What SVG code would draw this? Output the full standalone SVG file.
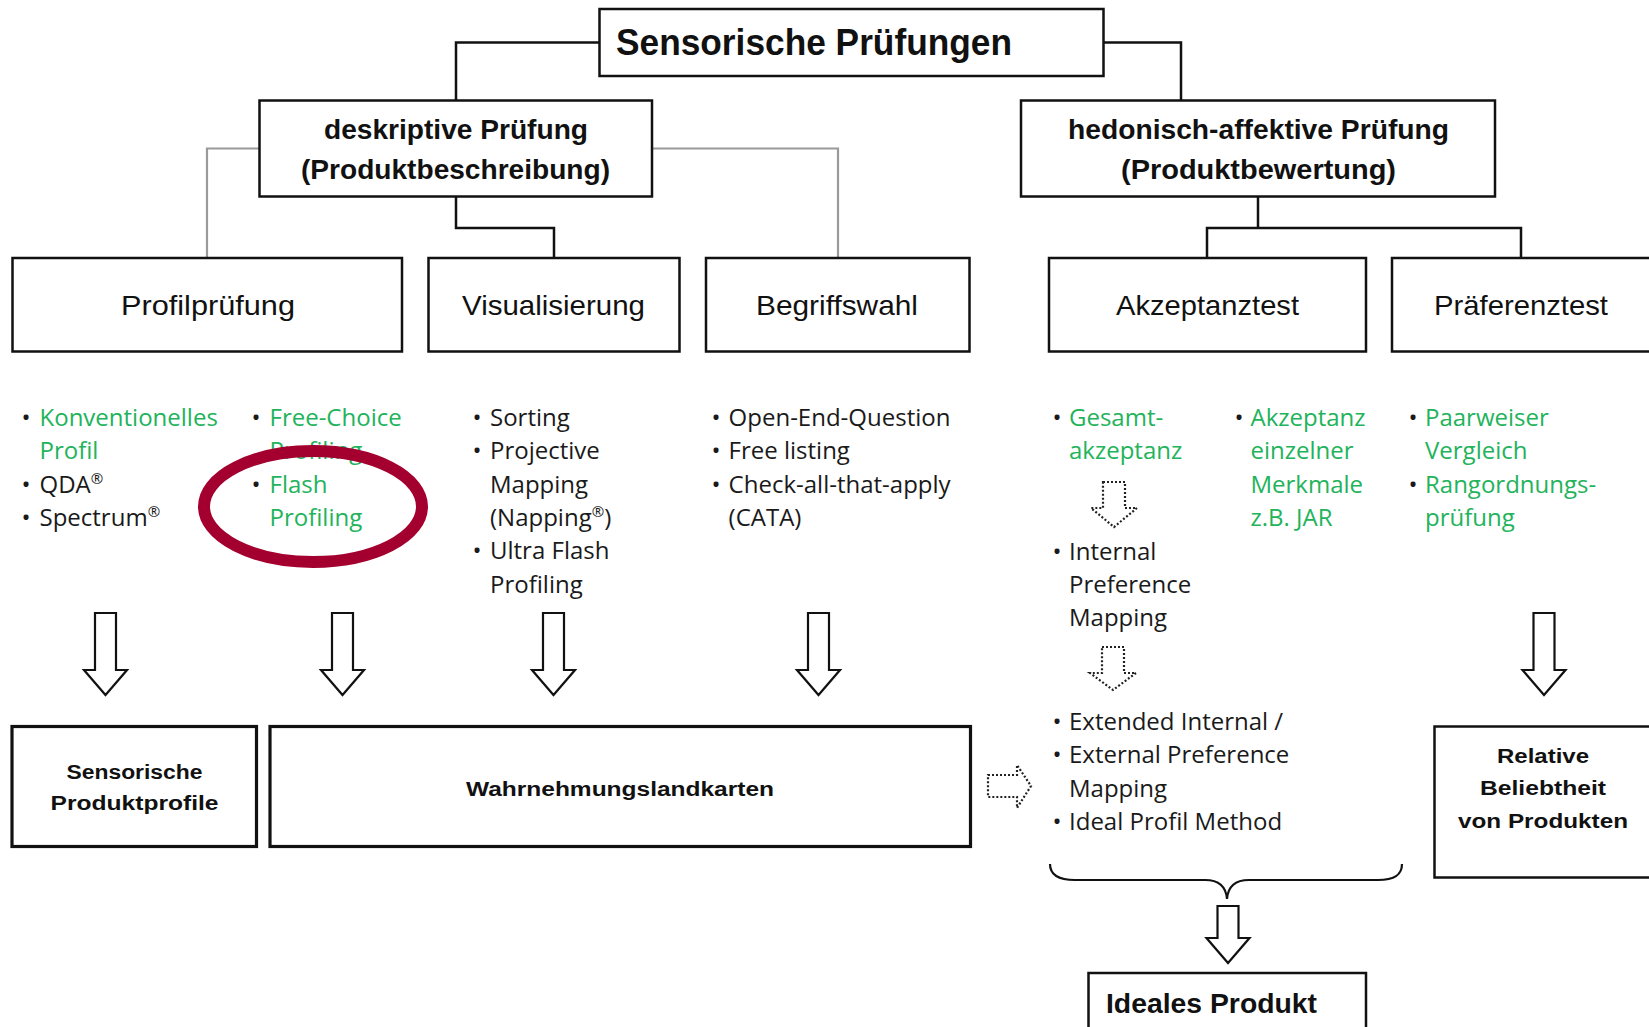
<svg xmlns="http://www.w3.org/2000/svg" width="1649" height="1027" viewBox="0 0 1649 1027">
<style>
.box{fill:#fff;stroke:#111;stroke-width:2.5}
.box3{fill:#fff;stroke:#111;stroke-width:3.2}
.lbl{font-family:"Liberation Sans",Arial,sans-serif;fill:#111}
.b{font-weight:bold}
.lst{font-family:"Open Sans","Noto Sans",sans-serif;font-size:24px;fill:#1a1a1a}
.g{fill:#22b35b}
.conn{fill:none;stroke:#111;stroke-width:2.5}
.gray{fill:none;stroke:#9a9a9a;stroke-width:2.2}
.arr{fill:#fff;stroke:#111;stroke-width:2.2;stroke-linejoin:miter}
.dot{fill:#fff;stroke:#222;stroke-width:2.2;stroke-dasharray:2 2}
</style>
<rect width="1649" height="1027" fill="#fff"/>

<g id="connectors">
<path class="conn" d="M599,42.5 H456 V100"/>
<path class="conn" d="M1104,42.5 H1181 V100"/>
<path class="gray" d="M259,148.5 H207 V258"/>
<path class="gray" d="M652,148.5 H838 V258"/>
<path class="conn" d="M456,197 V228 H554 V258"/>
<path class="conn" d="M1258,197 V228"/>
<path class="conn" d="M1207,258 V228 H1521 V258"/>
<polygon class="arr" points="95,613 116,613 116,670 127,670 105.5,695 84,670 95,670"/>
<polygon class="arr" points="332,613 353,613 353,670 364,670 342.5,695 321,670 332,670"/>
<polygon class="arr" points="543,613 564,613 564,670 575,670 553.5,695 532,670 543,670"/>
<polygon class="arr" points="808,613 829,613 829,670 840,670 818.5,695 797,670 808,670"/>
<polygon class="arr" points="1533.5,613 1554.5,613 1554.5,670 1565.5,670 1544,695 1522.5,670 1533.5,670"/>
<polygon class="arr" points="1217.5,906 1238.5,906 1238.5,938 1249.5,938 1228,963 1206.5,938 1217.5,938"/>
<polygon class="dot" points="1103,482 1125,482 1125,508 1137,508 1114,527 1091,508 1103,508"/>
<polygon class="dot" points="1102,647 1124,647 1124,673 1136,673 1113,690 1090,673 1102,673"/>
<polygon class="dot" points="988,775 1017,775 1017,765 1031,786 1017,808 1017,797 988,797"/>
<path fill="none" stroke="#111" stroke-width="2.2" d="M1050,864 C1050,876 1060,880 1075,880 H1205 C1218,880 1226,886 1227,899 C1228,886 1236,880 1249,880 H1378 C1393,880 1402,876 1402,864"/>
</g>

<g id="n-sensorische-pruefungen">
<rect class="box" x="599.5" y="9" width="504" height="67"/>
<text class="lbl b" x="616" y="55" font-size="36" textLength="396" lengthAdjust="spacingAndGlyphs">Sensorische Prüfungen</text>
</g>
<g id="n-deskriptiv">
<rect class="box" x="259.5" y="100.5" width="392.5" height="96"/>
<text class="lbl b" x="324" y="139" font-size="28" textLength="264" lengthAdjust="spacingAndGlyphs">deskriptive Prüfung</text>
<text class="lbl b" x="301" y="178.5" font-size="28" textLength="309" lengthAdjust="spacingAndGlyphs">(Produktbeschreibung)</text>
</g>
<g id="n-hedonisch">
<rect class="box" x="1021" y="100.5" width="474" height="96"/>
<text class="lbl b" x="1068" y="139" font-size="28" textLength="381" lengthAdjust="spacingAndGlyphs">hedonisch-affektive Prüfung</text>
<text class="lbl b" x="1121" y="178.5" font-size="28" textLength="275" lengthAdjust="spacingAndGlyphs">(Produktbewertung)</text>
</g>
<g id="n-profilpruefung">
<rect class="box" x="12.5" y="258" width="389.5" height="93.5"/>
<text class="lbl" x="121" y="315" font-size="28" textLength="174" lengthAdjust="spacingAndGlyphs">Profilprüfung</text>
</g>
<g id="n-visualisierung">
<rect class="box" x="428.5" y="258" width="251" height="93.5"/>
<text class="lbl" x="462" y="315" font-size="28" textLength="183" lengthAdjust="spacingAndGlyphs">Visualisierung</text>
</g>
<g id="n-begriffswahl">
<rect class="box" x="706" y="258" width="263.5" height="93.5"/>
<text class="lbl" x="756" y="315" font-size="28" textLength="162" lengthAdjust="spacingAndGlyphs">Begriffswahl</text>
</g>
<g id="n-akzeptanztest">
<rect class="box" x="1049" y="258" width="317" height="93.5"/>
<text class="lbl" x="1116" y="315" font-size="28" textLength="183" lengthAdjust="spacingAndGlyphs">Akzeptanztest</text>
</g>
<g id="n-praeferenztest">
<rect class="box" x="1392" y="258" width="263" height="93.5"/>
<text class="lbl" x="1434" y="315" font-size="28" textLength="174" lengthAdjust="spacingAndGlyphs">Präferenztest</text>
</g>

<g id="list-profil" class="lst">
<text x="26" y="426" text-anchor="middle">•</text><text class="g" x="39.5" y="426">Konventionelles</text>
<text class="g" x="39.5" y="459.3">Profil</text>
<text x="26" y="492.7" text-anchor="middle">•</text><text x="39.5" y="492.7">QDA<tspan font-size="15" dy="-9">®</tspan></text>
<text x="26" y="526" text-anchor="middle">•</text><text x="39.5" y="526">Spectrum<tspan font-size="15" dy="-9">®</tspan></text>
<text x="256" y="426" text-anchor="middle">•</text><text class="g" x="269.5" y="426">Free-Choice</text>
<text class="g" x="269.5" y="459.3">Profiling</text>
<text x="256" y="492.7" text-anchor="middle">•</text><text class="g" x="269.5" y="492.7">Flash</text>
<text class="g" x="269.5" y="526">Profiling</text>
</g>
<g id="list-visualisierung" class="lst">
<text x="477" y="426" text-anchor="middle">•</text><text x="490" y="426">Sorting</text>
<text x="477" y="459.3" text-anchor="middle">•</text><text x="490" y="459.3">Projective</text>
<text x="490" y="492.7">Mapping</text>
<text x="490" y="526">(Napping<tspan font-size="15" dy="-9">®</tspan><tspan dy="9">)</tspan></text>
<text x="477" y="559.3" text-anchor="middle">•</text><text x="490" y="559.3">Ultra Flash</text>
<text x="490" y="592.7">Profiling</text>
</g>
<g id="list-begriffswahl" class="lst">
<text x="716" y="426" text-anchor="middle">•</text><text x="728.6" y="426">Open-End-Question</text>
<text x="716" y="459.3" text-anchor="middle">•</text><text x="728.6" y="459.3">Free listing</text>
<text x="716" y="492.7" text-anchor="middle">•</text><text x="728.6" y="492.7">Check-all-that-apply</text>
<text x="728.6" y="526">(CATA)</text>
</g>
<g id="list-akzeptanz" class="lst">
<text x="1057" y="426" text-anchor="middle">•</text><text class="g" x="1069" y="426">Gesamt-</text>
<text class="g" x="1069" y="459.3">akzeptanz</text>
<text x="1057" y="559.5" text-anchor="middle">•</text><text x="1069" y="559.5">Internal</text>
<text x="1069" y="593">Preference</text>
<text x="1069" y="626.3">Mapping</text>
<text x="1057" y="729.5" text-anchor="middle">•</text><text x="1069" y="729.5">Extended Internal /</text>
<text x="1057" y="763" text-anchor="middle">•</text><text x="1069" y="763">External Preference</text>
<text x="1069" y="796.5">Mapping</text>
<text x="1057" y="830" text-anchor="middle">•</text><text x="1069" y="830">Ideal Profil Method</text>
<text x="1239" y="426" text-anchor="middle">•</text><text class="g" x="1250.5" y="426">Akzeptanz</text>
<text class="g" x="1250.5" y="459.3">einzelner</text>
<text class="g" x="1250.5" y="492.7">Merkmale</text>
<text class="g" x="1250.5" y="526">z.B. JAR</text>
</g>
<g id="list-praeferenz" class="lst">
<text x="1413" y="426" text-anchor="middle">•</text><text class="g" x="1425" y="426">Paarweiser</text>
<text class="g" x="1425" y="459.3">Vergleich</text>
<text x="1413" y="492.7" text-anchor="middle">•</text><text class="g" x="1425" y="492.7">Rangordnungs-</text>
<text class="g" x="1425" y="526">prüfung</text>
</g>

<g id="highlight">
<ellipse cx="313" cy="506.5" rx="109" ry="55.5" fill="none" stroke="#a3002f" stroke-width="12"/>
</g>

<g id="n-sensorische-produktprofile">
<rect class="box3" x="12" y="726.5" width="244.5" height="120"/>
<text class="lbl b" x="134.5" y="779" font-size="20" text-anchor="middle" textLength="136" lengthAdjust="spacingAndGlyphs">Sensorische</text>
<text class="lbl b" x="134.5" y="810" font-size="20" text-anchor="middle" textLength="168" lengthAdjust="spacingAndGlyphs">Produktprofile</text>
</g>
<g id="n-wahrnehmungslandkarten">
<rect class="box3" x="270" y="726.5" width="700.5" height="120"/>
<text class="lbl b" x="620" y="796" font-size="20" text-anchor="middle" textLength="308" lengthAdjust="spacingAndGlyphs">Wahrnehmungslandkarten</text>
</g>
<g id="n-relative-beliebtheit">
<rect class="box" x="1434.5" y="726.5" width="222" height="151"/>
<text class="lbl b" x="1543" y="762.5" font-size="21" text-anchor="middle" textLength="92" lengthAdjust="spacingAndGlyphs">Relative</text>
<text class="lbl b" x="1543" y="794.5" font-size="21" text-anchor="middle" textLength="126" lengthAdjust="spacingAndGlyphs">Beliebtheit</text>
<text class="lbl b" x="1543" y="828" font-size="21" text-anchor="middle" textLength="170" lengthAdjust="spacingAndGlyphs">von Produkten</text>
</g>
<g id="n-ideales-produkt">
<rect class="box" x="1088.5" y="973" width="277.5" height="70"/>
<text class="lbl b" x="1106" y="1013" font-size="28" textLength="211" lengthAdjust="spacingAndGlyphs">Ideales Produkt</text>
</g>
</svg>
